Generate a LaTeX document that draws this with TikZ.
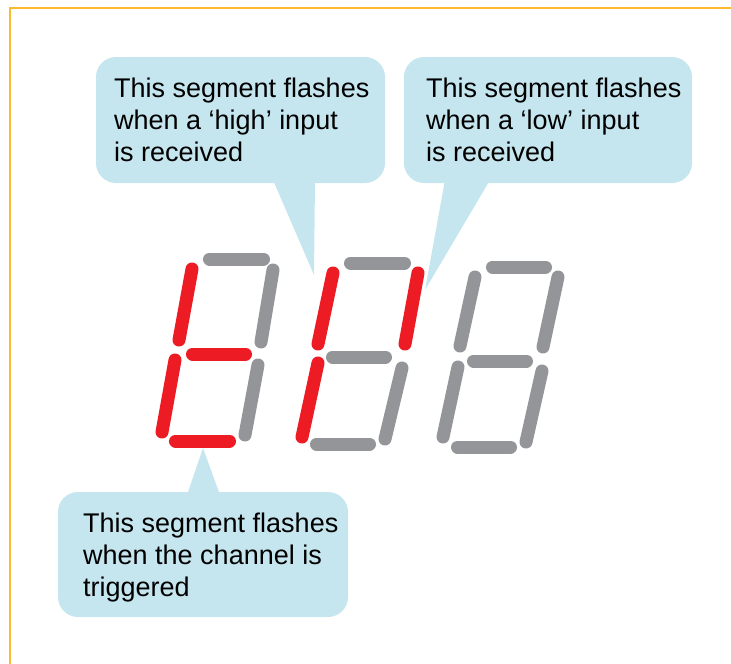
\documentclass[tikz,border=0pt]{standalone}
\usepackage{fontspec}
\setmainfont{Liberation Sans}
\definecolor{framec}{RGB}{253,186,48}
\definecolor{calloutc}{RGB}{197,230,239}
\definecolor{segon}{RGB}{237,28,36}
\definecolor{segoff}{RGB}{147,149,152}
\tikzset{
  frameline/.style={draw=framec, line width=1.6pt},
  callout/.style={fill=calloutc, draw=none},
  calloutbox/.style={callout, rounded corners=20pt},
  callouttext/.style={anchor=base west, align=left, inner sep=0pt, text=black, font=\fontsize{27}{32}\selectfont},
  segbase/.style={line width=13pt, line cap=round},
  seglit/.style={segbase, draw=segon},
  segdim/.style={segbase, draw=segoff}
}
\begin{document}
\begin{tikzpicture}[x=1pt, y=-1pt]
\useasboundingbox (0,0) rectangle (731,664);
% frame
\coordinate (ftr) at (731,8);
\coordinate (ftl) at (10,8);
\coordinate (fbl) at (10,664);
\draw[frameline] (ftr) -- (ftl) -- (fbl);

% callout 1 (high)
\fill[calloutbox] (96,57) rectangle (385,183);
\fill[callout] (273,180) -- (314,275) -- (315,180) -- cycle;
\node[callouttext] (t1) at (114,161) {This segment flashes\\when a ‘high’ input\\is received};

% callout 2 (low)
\fill[calloutbox] (404,57) rectangle (692,183);
\fill[callout] (445,180) -- (425,290) -- (490,180) -- cycle;
\node[callouttext] (t2) at (426,161) {This segment flashes\\when a ‘low’ input\\is received};

% callout 3 (channel)
\fill[calloutbox] (58,492) rectangle (348,617);
\fill[callout] (187,495) -- (203,448) -- (220,495) -- cycle;
\node[callouttext] (t3) at (83,596) {This segment flashes\\when the channel is\\triggered};

% digit 1
\draw[segdim] (209.5,259) -- (263.5,259);
\draw[seglit] (192,269) -- (179,340);
\draw[segdim] (273,270) -- (261,342);
\draw[seglit] (192.5,354) -- (245.5,354);
\draw[seglit] (175,360) -- (162,432);
\draw[segdim] (258,365) -- (245,435);
\draw[seglit] (175.5,441) -- (229.5,441);

% digit 2
\draw[segdim] (350.5,263) -- (404.5,263);
\draw[seglit] (333,273) -- (318,344);
\draw[seglit] (418,273) -- (405,344);
\draw[segdim] (332.5,357) -- (385.5,357);
\draw[seglit] (318,363) -- (302,437);
\draw[segdim] (402,368) -- (385,439);
\draw[segdim] (316.5,444) -- (369.5,444);

% digit 3
\draw[segdim] (492.5,267) -- (545.5,267);
\draw[segdim] (475,277) -- (460,346);
\draw[segdim] (558,277) -- (543,347);
\draw[segdim] (473.5,361) -- (526.5,361);
\draw[segdim] (458,367) -- (443,437);
\draw[segdim] (542,371) -- (526,442);
\draw[segdim] (457.5,447) -- (510.5,447);
\end{tikzpicture}
\end{document}
